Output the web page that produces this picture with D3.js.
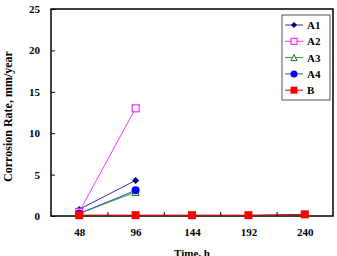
<!DOCTYPE html>
<html>
<head>
<meta charset="utf-8">
<script src="https://cdn.jsdelivr.net/npm/d3@7"></script>
<style>
  body { margin: 0; background: #fff; }
  text { font-family: "Liberation Serif", "Times New Roman", serif; font-weight: bold; }
</style>
</head>
<body>
<div id="chart"></div>
<script>
// data
const times = [48, 96, 144, 192, 240];
const seriesNames = ["A1", "A2", "A3", "A4", "B"];
const a1 = [0.8, 4.3];
const a2 = [0.5, 13.0];
const a3 = [0.3, 2.9];
const a4 = [0.3, 3.1];
const b = [0.1, 0.1, 0.1, 0.1, 0.2];
const yTicks = [0, 5, 10, 15, 20, 25];

const colors = { A1: "#000080", A2: "#ff00ff", A3: "#008000", A4: "#0000ff", B: "#ff0000" };
const lineColors = { A1: "#333399", A2: "#ff33ff", A3: "#339933", A4: "#3355cc", B: "#cc0000" };
const shapes = { A1: "diamond", A2: "square-open", A3: "triangle-open", A4: "circle", B: "square" };
const allValues = { A1: a1, A2: a2, A3: a3, A4: a4, B: b };

const W = 337, H = 256;
const margin = { top: 9, right: 4, bottom: 40, left: 51 };
const width = W - margin.left - margin.right;
const height = H - margin.top - margin.bottom;

const svg = d3.select("#chart")
  .append("svg")
    .attr("width", W)
    .attr("height", H);

const g = svg.append("g")
    .attr("transform", `translate(${margin.left},${margin.top})`);

const x = d3.scaleLinear().domain([24, 264]).range([0, width]);
const y = d3.scaleLinear().domain([0, 25]).range([height, 0]);

// y axis, ticks pointing inward
g.append("g")
  .call(d3.axisLeft(y).tickValues(yTicks).tickSize(-4).tickPadding(11))
  .call(a => a.select(".domain").remove())
  .selectAll("text").style("font-size", "11px");

// x axis: labels at categories, minor ticks between
g.append("g")
  .attr("transform", `translate(0,${height})`)
  .call(d3.axisBottom(x).tickValues([72, 120, 168, 216]).tickSize(-4).tickFormat(""))
  .call(a => a.select(".domain").remove());
g.append("g")
  .attr("transform", `translate(0,${height})`)
  .call(d3.axisBottom(x).tickValues(times).tickSize(0).tickPadding(12))
  .call(a => a.select(".domain").remove())
  .selectAll("text").style("font-size", "11px");

// frame
g.append("rect")
  .attr("width", width).attr("height", height)
  .attr("fill", "none").attr("stroke", "#000").attr("stroke-width", 1.5);

const line = d3.line().x(d => x(d.t)).y(d => y(d.v));

function drawMarker(sel, name, size) {
  const c = colors[name];
  const s = shapes[name];
  const h = size / 2;
  if (s === "diamond") {
    sel.append("path").attr("d", `M0,${-h}L${h},0L0,${h}L${-h},0Z`).attr("fill", c);
  } else if (s === "square-open") {
    sel.append("rect").attr("x", -h).attr("y", -h).attr("width", size).attr("height", size)
      .attr("fill", "#fff").attr("stroke", c).attr("stroke-width", 1);
  } else if (s === "triangle-open") {
    sel.append("path").attr("d", `M0,${-h}L${h},${h}L${-h},${h}Z`).attr("fill", "#fff")
      .attr("stroke", c).attr("stroke-width", 1);
  } else if (s === "circle") {
    sel.append("circle").attr("r", h + 0.5).attr("fill", c);
  } else {
    sel.append("rect").attr("x", -h).attr("y", -h).attr("width", size).attr("height", size)
      .attr("fill", c);
  }
}

seriesNames.forEach(name => {
  const pts = allValues[name].map((v, i) => ({ t: times[i], v: v }));
  g.append("path")
    .datum(pts)
    .attr("d", line)
    .attr("fill", "none")
    .attr("stroke", lineColors[name])
    .attr("stroke-width", 1);
  pts.forEach(p => {
    const m = g.append("g").attr("transform", `translate(${x(p.t)},${y(p.v)})`);
    drawMarker(m, name, name === "B" ? 8 : 7);
  });
});

// axis titles
svg.append("text")
  .attr("transform", `translate(12,${margin.top + height / 2 + 4}) rotate(-90)`)
  .attr("text-anchor", "middle")
  .style("font-size", "12px")
  .text("Corrosion Rate, mm/year");

svg.append("text")
  .attr("x", margin.left + width / 2)
  .attr("y", 257)
  .attr("text-anchor", "middle")
  .style("font-size", "11px")
  .text("Time, h");

// legend
const legend = svg.append("g").attr("transform", "translate(282,15)");
legend.append("rect")
  .attr("width", 48).attr("height", 85)
  .attr("fill", "#fff").attr("stroke", "#555").attr("stroke-width", 1);
seriesNames.forEach((name, i) => {
  const row = legend.append("g").attr("transform", `translate(0,${10 + i * 16.3})`);
  row.append("line").attr("x1", 3).attr("x2", 21).attr("stroke", lineColors[name]).attr("stroke-width", 1);
  const m = row.append("g").attr("transform", "translate(12,0)");
  drawMarker(m, name, name === "B" ? 7 : 6);
  row.append("text").attr("x", 25).attr("y", 4).style("font-size", "11px").text(name);
});
</script>
</body>
</html>
